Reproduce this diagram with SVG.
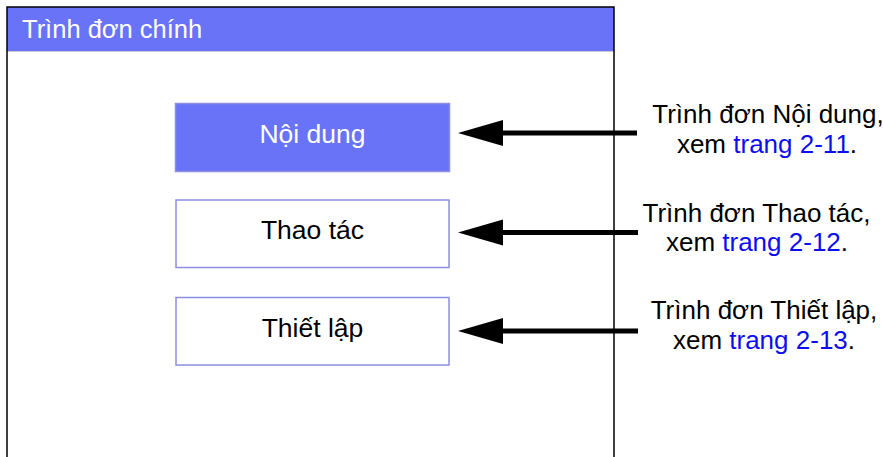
<svg xmlns="http://www.w3.org/2000/svg" width="883" height="457" viewBox="0 0 883 457">
<style>
text{font-family:"Liberation Sans",Arial,sans-serif;}
.hdr{fill:#6873f8;}
.box{stroke:#8c8ee0;stroke-width:1.5;}
.btxt{font-size:26.5px;text-anchor:middle;}
.lbl{font-size:26px;text-anchor:middle;fill:#000;}
.lnk{fill:#0d0df2;}
.conn{stroke:#000;stroke-width:5;fill:none;}
</style>
<defs>
<marker id="ah" markerUnits="userSpaceOnUse" markerWidth="48" markerHeight="28" refX="1" refY="13" orient="auto" viewBox="0 0 48 28">
<polygon points="0,0 45,13 0,26" fill="#000"/>
</marker>
</defs>
<rect x="0" y="0" width="883" height="457" fill="#fff"/>
<g id="frame">
<rect x="7" y="7" width="607" height="44" class="hdr"/>
<line x1="7" y1="51.5" x2="614" y2="51.5" stroke="#c8cad8" stroke-width="1"/>
<path d="M7,457 V7 H614 V457" fill="none" stroke="#000" stroke-width="1.5"/>
<text x="22" y="38" font-size="25.5" fill="#fff">Trình đơn chính</text>
</g>
<g id="node-noidung">
<rect x="175.5" y="103.5" width="274" height="68" class="box" fill="#6873f8" stroke="#6873f8"/>
<text x="312.5" y="143" class="btxt" fill="#fff">Nội dung</text>
</g>
<g id="node-thaotac">
<rect x="176" y="200" width="273" height="67.5" class="box" fill="#fff"/>
<text x="312.5" y="239" class="btxt" fill="#000">Thao tác</text>
</g>
<g id="node-thietlap">
<rect x="176" y="297.5" width="273" height="67.5" class="box" fill="#fff"/>
<text x="312.5" y="336.5" class="btxt" fill="#000">Thiết lập</text>
</g>
<g id="connectors">
<line x1="637" y1="133" x2="502" y2="133" class="conn" marker-end="url(#ah)"/>
<line x1="638" y1="232.5" x2="502" y2="232.5" class="conn" marker-end="url(#ah)"/>
<line x1="638" y1="331" x2="502" y2="331" class="conn" marker-end="url(#ah)"/>
</g>
<g id="label-noidung">
<text x="768" y="123" class="lbl">Trình đơn Nội dung,</text>
<text x="767" y="153" class="lbl">xem <tspan class="lnk">trang 2-11</tspan>.</text>
</g>
<g id="label-thaotac">
<text x="756.5" y="222" class="lbl">Trình đơn Thao tác,</text>
<text x="757" y="251" class="lbl">xem <tspan class="lnk">trang 2-12</tspan>.</text>
</g>
<g id="label-thietlap">
<text x="764" y="319" class="lbl">Trình đơn Thiết lập,</text>
<text x="764" y="349" class="lbl">xem <tspan class="lnk">trang 2-13</tspan>.</text>
</g>
</svg>
